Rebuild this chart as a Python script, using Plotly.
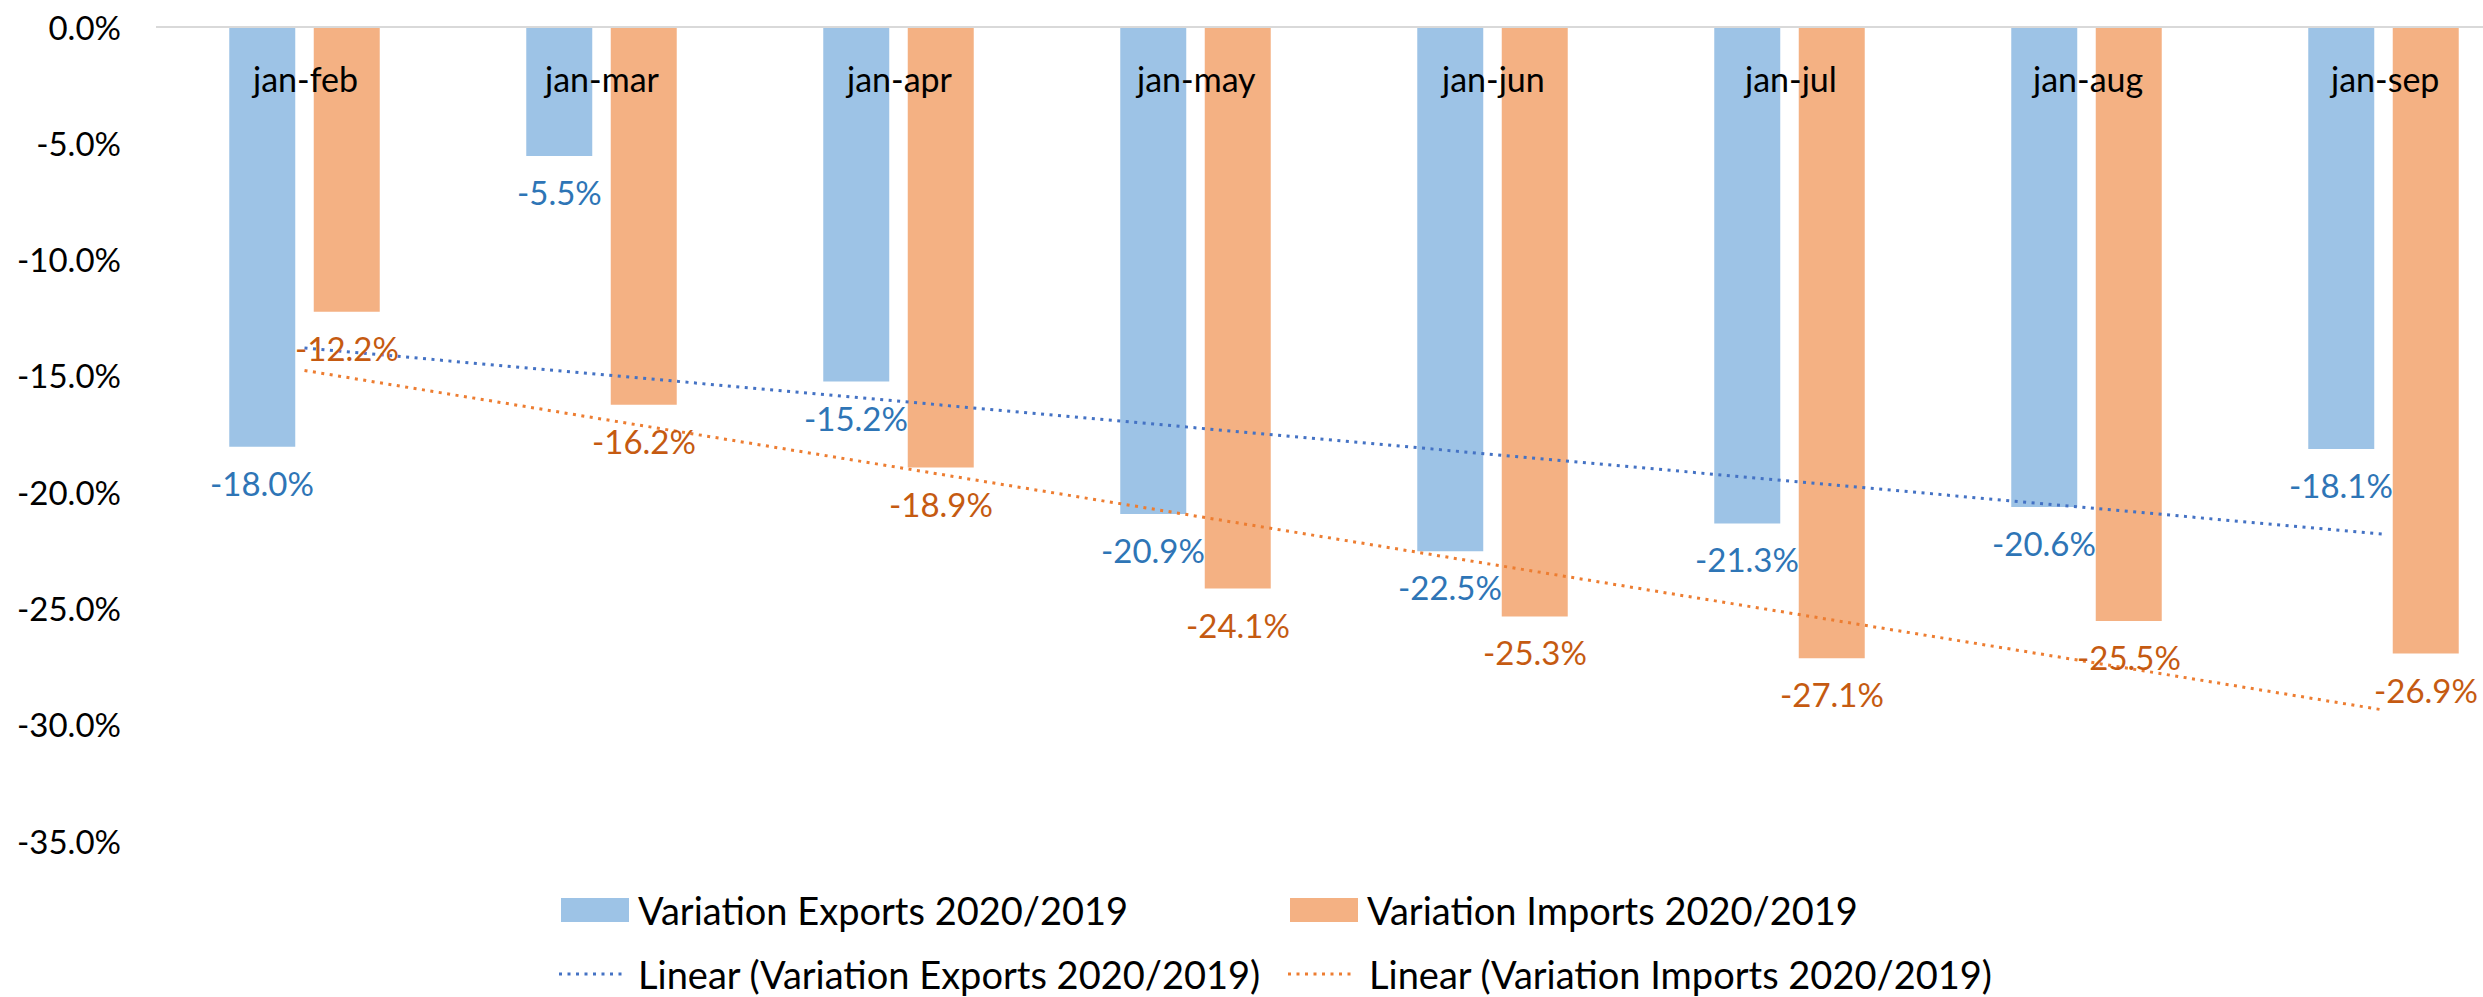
import numpy as np
import plotly.graph_objects as go

# ---- data ----
categories = ["jan-feb", "jan-mar", "jan-apr", "jan-may", "jan-jun", "jan-jul", "jan-aug", "jan-sep"]
exports = [-18.0, -5.5, -15.2, -20.9, -22.5, -21.3, -20.6, -18.1]
imports = [-12.2, -16.2, -18.9, -24.1, -25.3, -27.1, -25.5, -26.9]
name_exp = "Variation Exports 2020/2019"
name_imp = "Variation Imports 2020/2019"
name_exp_lin = "Linear (Variation Exports 2020/2019)"
name_imp_lin = "Linear (Variation Imports 2020/2019)"
y_ticks = [0, -5, -10, -15, -20, -25, -30, -35]

# ---- styles ----
C_EXP = "#9DC3E6"
C_IMP = "#F4B183"
C_EXP_LINE = "#4472C4"
C_IMP_LINE = "#ED7D31"
C_EXP_TXT = "#2E75B6"
C_IMP_TXT = "#C55A11"
FONT = "Lato"
W, H = 2483, 997
ML, MT, MB = 156, 28, 155
PW = W - ML
PH = H - MT - MB

# linear trendlines (least squares, as the spreadsheet trendline)
idx = np.arange(1, len(categories) + 1)
pe = np.polyfit(idx, exports, 1)
pi = np.polyfit(idx, imports, 1)
trend_exp = np.polyval(pe, idx)
trend_imp = np.polyval(pi, idx)

fig = go.Figure()
fig.add_trace(go.Bar(x=categories, y=exports, name=name_exp, marker=dict(color=C_EXP, line=dict(width=0))))
fig.add_trace(go.Bar(x=categories, y=imports, name=name_imp, marker=dict(color=C_IMP, line=dict(width=0))))
fig.add_trace(go.Scatter(x=categories, y=trend_exp, mode="lines", name=name_exp_lin,
                         line=dict(color=C_EXP_LINE, width=3, dash="3px,5.5px")))
fig.add_trace(go.Scatter(x=categories, y=trend_imp, mode="lines", name=name_imp_lin,
                         line=dict(color=C_IMP_LINE, width=3, dash="3px,5.5px")))

ann = []
# category labels just below the zero line
for c in categories:
    ann.append(dict(x=c, y=0, xref="x", yref="y", text=c, showarrow=False,
                    yanchor="middle", yshift=-50, font=dict(family=FONT, size=34, color="#000000")))
# data labels
for c, v in zip(categories, exports):
    ann.append(dict(x=c, y=v, xref="x", yref="y", text=f"{v:.1f}%", showarrow=False,
                    xshift=-42.25, yanchor="middle", yshift=-36,
                    font=dict(family=FONT, size=33, color=C_EXP_TXT)))
for c, v in zip(categories, imports):
    ann.append(dict(x=c, y=v, xref="x", yref="y", text=f"{v:.1f}%", showarrow=False,
                    xshift=42.25, yanchor="middle", yshift=-36,
                    font=dict(family=FONT, size=33, color=C_IMP_TXT)))

# custom legend (pixel positions converted to paper coordinates)
def px(X):
    return (X - ML) / PW

def py(Y):
    return (MT + PH - Y) / PH

shapes = []
legend_items = [
    ("rect", C_EXP, name_exp, 561, 629, 910, 636),
    ("rect", C_IMP, name_imp, 1290, 1358, 910, 1365),
    ("line", C_EXP_LINE, name_exp_lin, 559, 623, 974, 636),
    ("line", C_IMP_LINE, name_imp_lin, 1288, 1353, 974, 1367),
]
for kind, col, label, x0, x1, yc, xt in legend_items:
    if kind == "rect":
        shapes.append(dict(type="rect", xref="paper", yref="paper", x0=px(x0), x1=px(x1),
                           y0=py(yc - 12), y1=py(yc + 12), fillcolor=col, line=dict(width=0)))
    else:
        shapes.append(dict(type="line", xref="paper", yref="paper", x0=px(x0), x1=px(x1),
                           y0=py(yc), y1=py(yc), line=dict(color=col, width=3, dash="3px,5.5px")))
    ann.append(dict(x=px(xt), y=py(yc), xref="paper", yref="paper", text=label, showarrow=False,
                    xanchor="left", yanchor="middle", font=dict(family=FONT, size=38, color="#000000")))

fig.update_layout(
    width=W, height=H,
    margin=dict(l=ML, r=0, t=MT, b=MB, pad=0, autoexpand=False),
    paper_bgcolor="white", plot_bgcolor="white",
    barmode="group", bargap=0.431, bargroupgap=0.219,
    showlegend=False,
    font=dict(family=FONT, size=33, color="#000000"),
    annotations=ann, shapes=shapes,
    xaxis=dict(type="category", range=[-0.5, -0.5 + PW / 297.0], side="top",
               showticklabels=False, ticks="", showgrid=False, zeroline=False, automargin=False,
               showline=True, linecolor="#D9D9D9", linewidth=2),
    yaxis=dict(range=[-35, 0], tickvals=y_ticks, ticktext=[f"{v:.1f}%" for v in y_ticks],
               showgrid=False, zeroline=False, showline=False, ticks="", automargin=False,
               ticklabelstandoff=34, tickfont=dict(family=FONT, size=33, color="#000000")),
)

fig.write_html("out.html", config={"displayModeBar": False},
               post_script="document.body.style.margin='0';document.body.style.overflow='hidden';")
